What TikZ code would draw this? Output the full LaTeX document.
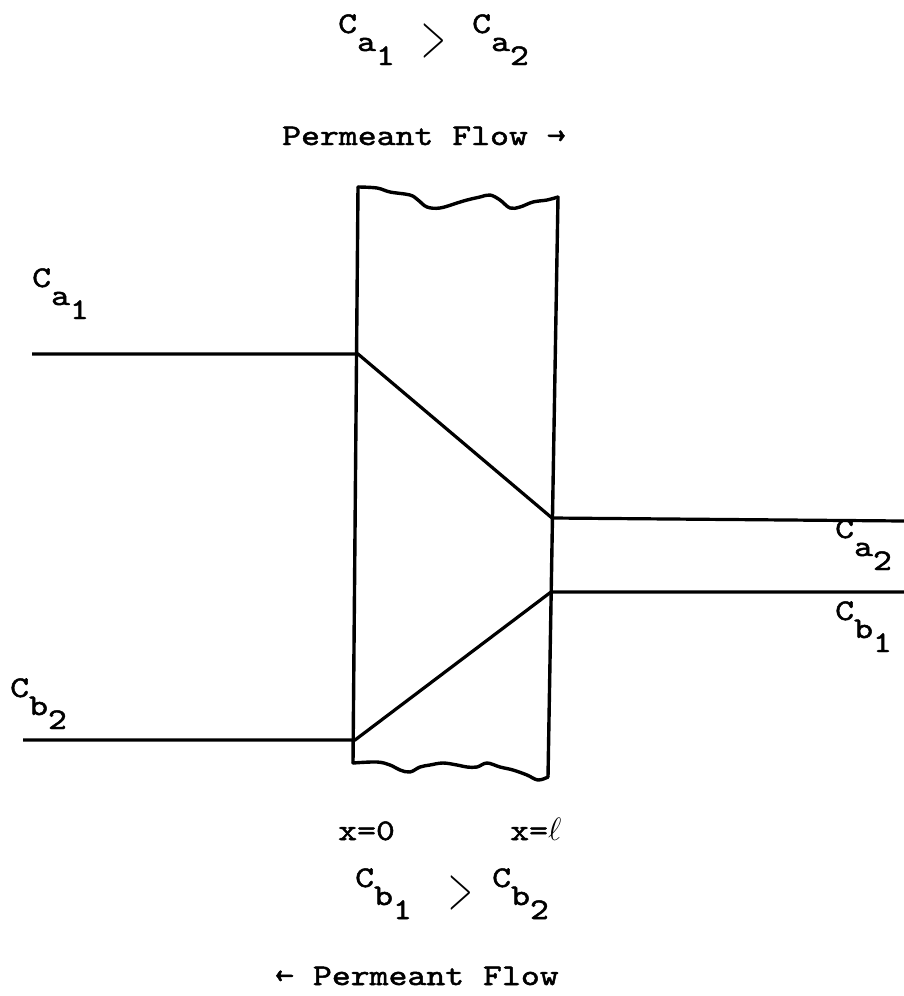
\documentclass[tikz,border=0pt]{standalone}
\usepackage{fontspec}
\usepackage{graphicx}
\newfontfamily\typewfont[Extension=.otf,FakeStretch=1.2,FakeBold=1.6]{lmmono10-regular}
\usetikzlibrary{positioning}

\newcommand{\conc}[2]{C\raisebox{-18pt}{#1\raisebox{-14pt}{#2}}}

\tikzset{
  lbl/.style={font=\typewfont\fontsize{30}{34}\selectfont, inner sep=0pt, anchor=base west},
  gtsign/.style={font=\fontsize{29}{34}\selectfont, inner sep=0pt},
  wall/.style={line width=3.4pt, line join=round, line cap=round},
  profile/.style={line width=3.2pt}
}

\begin{document}
\begin{tikzpicture}[x=1pt,y=-1pt]
\useasboundingbox (0,0) rectangle (904,996);

% membrane corners and profile points (manual positions)
\coordinate (memTL) at (358,187);
\coordinate (memTR) at (558,197);
\coordinate (memBR) at (548,777);
\coordinate (memBL) at (353,763);
\coordinate (aLeft) at (32,354);
\coordinate (aIn) at (358,354);
\coordinate (aOut) at (552,518);
\coordinate (aRight) at (904,521);
\coordinate (bRight) at (904,592);
\coordinate (bIn) at (551,592);
\coordinate (bOut) at (355,740);
\coordinate (bLeft) at (23,740);

% labels
\node[lbl] (ratioAone) at (338,33) {\conc{a}{1}};
\node[gtsign] (gtA) at (434,41) {\scalebox{1.3}[2.5]{$>$}};
\node[lbl] (ratioAtwo) at (472,33) {\conc{a}{2}};
\node[lbl] (flowA) at (282,145) {Permeant Flow →};
\node[lbl] (caone) at (32,287) {\conc{a}{1}};
\node[lbl] (catwo) at (835,538) {\conc{a}{2}};
\node[lbl] (cbone) at (835,620) {\conc{b}{1}};
\node[lbl] (cbtwo) at (10,697) {\conc{b}{2}};
\node[lbl] (xzero) at (338,840) {x=0};
\node[lbl] (xell) at (510,840) {x=\scalebox{1.3}{$\ell$}};
\node[lbl] (ratioBone) at (355,887) {\conc{b}{1}};
\node[gtsign] (gtB) at (461,893) {\scalebox{1.3}[2.5]{$>$}};
\node[lbl] (ratioBtwo) at (492,887) {\conc{b}{2}};
\node[lbl] (flowB) at (275,985) {← Permeant Flow};

% membrane walls
\draw[wall] (memBL) -- (memTL);
\draw[wall] (memTR) -- (memBR);
\draw[wall] plot[smooth, tension=0.6] coordinates {(358,187) (377,188) (390,192) (410,195) (418,200) (427,207) (440,208) (457,203) (467,200) (480,197) (490,195) (500,200) (510,208) (520,207) (533,202) (547,200) (558,197)};
\draw[wall] plot[smooth, tension=0.6] coordinates {(353,763) (377,762) (390,765) (400,770) (410,772) (420,767) (430,765) (443,763) (457,765) (467,767) (477,767) (487,763) (500,767) (513,770) (527,775) (538,780) (548,777)};

% concentration profiles
\draw[profile] (aLeft) -- (aIn) -- (aOut) -- (aRight);
\draw[profile] (bLeft) -- (bOut) -- (bIn) -- (bRight);

\end{tikzpicture}
\end{document}
